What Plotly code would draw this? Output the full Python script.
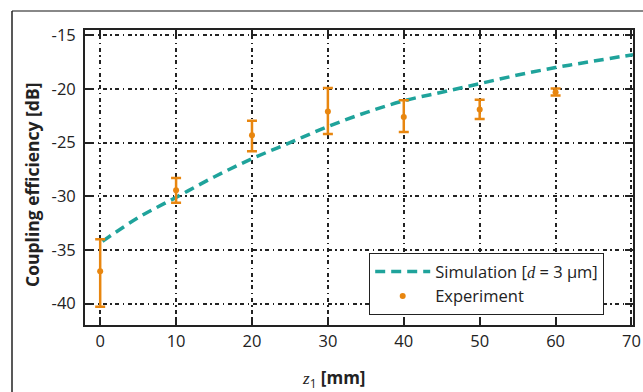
import plotly.graph_objects as go

# Simulation curve
sim_x = [0.3, 5, 10, 15, 20, 25, 30, 35, 40, 45, 50, 55, 60, 65, 70.2]
sim_y = [-34.2, -32.0, -30.1, -28.2, -26.5, -25.0, -23.5, -22.2, -21.1, -20.3, -19.5, -18.7, -18.0, -17.4, -16.8]

# Experiment
exp_x = [0, 10, 20, 30, 40, 50, 60]
exp_y = [-37.0, -29.45, -24.3, -22.1, -22.6, -21.9, -20.3]
exp_hi = [-34.0, -28.3, -22.95, -19.9, -21.05, -21.0, -19.95]
exp_lo = [-40.3, -30.6, -25.8, -24.2, -24.0, -22.8, -20.6]

x_ticks = [0, 10, 20, 30, 40, 50, 60, 70]
x_ticktext = ["0", "10", "20", "30", "40", "50", "60", "70"]
y_ticks = [-40, -35, -30, -25, -20, -15]
y_ticktext = ["-40", "-35", "-30", "-25", "-20", "-15"]

TEAL = "#1fa39b"
ORANGE = "#e8860f"
FONT = "Open Sans"

fig = go.Figure()
fig.add_trace(go.Scatter(
    x=sim_x, y=sim_y, mode="lines",
    line=dict(color=TEAL, width=3.5, dash="10px,6px", shape="spline"),
    name="Simulation [<span style='font-family:Liberation Serif'><i>d</i></span> = 3 μm]",
))
fig.add_trace(go.Scatter(
    x=exp_x, y=exp_y, mode="markers",
    marker=dict(color=ORANGE, size=6, symbol="circle"),
    error_y=dict(type="data", symmetric=False,
                 array=[h - y for h, y in zip(exp_hi, exp_y)],
                 arrayminus=[y - l for l, y in zip(exp_lo, exp_y)],
                 color=ORANGE, thickness=2.5, width=5),
    name="Experiment",
))

L, R, T, B = 85, 10, 30, 67
W, H = 643, 392
pw, ph = W - L - R, H - T - B

def px(x):
    return (x - L) / pw

def py(y):
    return (H - B - y) / ph

grid = dict(showgrid=True, gridcolor="#222", gridwidth=1.5, griddash="1.5px,3.5px,4px,3.5px")

fig.update_layout(
    width=W, height=H,
    margin=dict(l=L, r=R, t=T, b=B, autoexpand=False),
    paper_bgcolor="white", plot_bgcolor="white",
    font=dict(family=FONT, size=16.5, color="#222"),
    showlegend=True,
    legend=dict(x=px(369), y=py(253), xanchor="left", yanchor="top",
                bordercolor="#222", borderwidth=1.2, bgcolor="white",
                font=dict(size=16.5, family=FONT), itemwidth=55,
                tracegroupgap=0),
    xaxis=dict(range=[-2, 70.2], tickvals=x_ticks, ticktext=x_ticktext,
               ticks="inside", ticklen=8, automargin=False,
               tickcolor="#222", tickwidth=1.5, mirror="ticks", showline=True,
               linecolor="#222", linewidth=1.8, zeroline=False, **grid),
    yaxis=dict(range=[-42, -14.5], tickvals=y_ticks, ticktext=y_ticktext,
               ticks="inside", ticklen=8, automargin=False, ticklabelstandoff=4,
               tickcolor="#222", tickwidth=1.5, mirror="ticks", showline=True,
               linecolor="#222", linewidth=1.8, zeroline=False, **grid),
    annotations=[
        dict(text="<b>Coupling efficiency [dB]</b>", xref="paper", yref="paper",
             x=px(32), y=py(185), xanchor="center", yanchor="middle",
             textangle=-90, showarrow=False,
             font=dict(size=17.5, family=FONT)),
        dict(text="<span style='font-family:Liberation Serif'><i>z</i></span><sub>1</sub> <b>[mm]</b>",
             xref="paper", yref="paper", x=px(334), y=py(378),
             xanchor="center", yanchor="middle", showarrow=False,
             font=dict(size=17, family=FONT)),
    ],
    shapes=[
        dict(type="line", xref="paper", yref="paper", x0=px(12), x1=px(643),
             y0=py(11), y1=py(11), line=dict(color="#888", width=2)),
        dict(type="line", xref="paper", yref="paper", x0=px(12), x1=px(12),
             y0=py(11), y1=py(392), line=dict(color="#222", width=1.5)),
    ],
)

fig.write_html("out.html", config={"displayModeBar": False},
               post_script="document.body.style.margin='0';")
